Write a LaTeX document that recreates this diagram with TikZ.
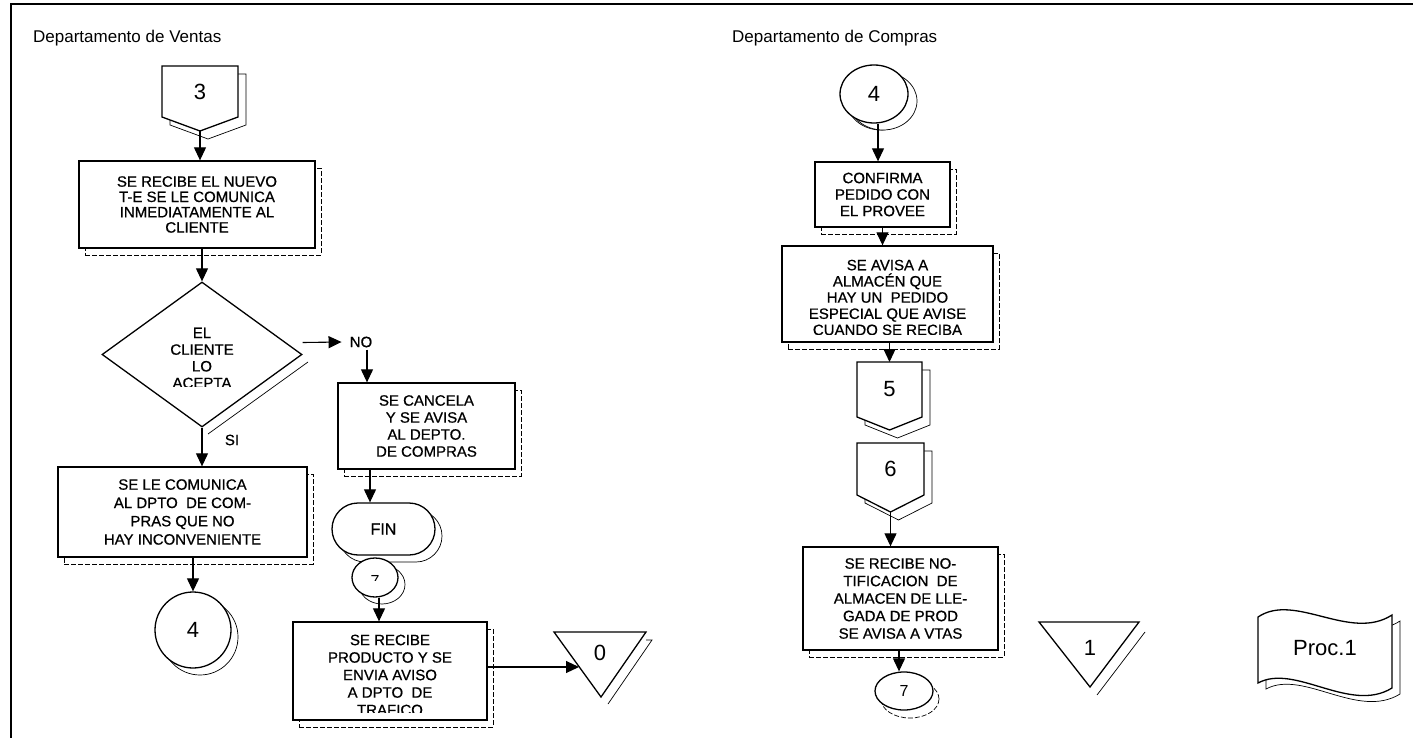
\documentclass[tikz,border=0pt]{standalone}
\usepackage{fontspec}
\setmainfont{Liberation Sans}
\newfontfamily\boxfam{Liberation Sans}[FakeBold=0.7]
\usetikzlibrary{arrows.meta,shapes.geometric,shapes.misc,shadows,calc}

% box lettering: size and line spacing
\newcommand\bx[2]{\boxfam\fontsize{#1}{#2}\selectfont}
\newcommand\numfont{\fontsize{22}{24}\selectfont}

% off-page connector: name, cx, cy, half width, half height, tip depth, label
\newcommand\offpage[7]{%
  \begin{scope}[shift={(#2,#3)}]
    \draw[shadowline, shift={(8,8)}] (-#4,-#5) -- (#4,-#5) -- (#4,#5) -- (0,#6) -- (-#4,#5) -- cycle;
    \draw[outline] (-#4,-#5) -- (#4,-#5) -- (#4,#5) -- (0,#6) -- (-#4,#5) -- cycle;
    \node[numtext] (#1) at (0,0) {#7};
    \coordinate (#1-top) at (0,-#5);
    \coordinate (#1-tip) at (0,#6);
  \end{scope}}

\begin{document}
\begin{tikzpicture}[x=1pt,y=-1pt,
  frame/.style={line width=1.3pt},
  outline/.style={draw=black, line width=1.3pt, fill=white},
  shadowline/.style={draw=black, line width=0.7pt, fill=white},
  thinline/.style={draw=black, line width=0.7pt},
  boxshadow/.style={copy shadow={shadow xshift=6pt, shadow yshift=-7pt, draw=black,
      line width=0.7pt, dash pattern=on 5pt off 2pt, fill=white}},
  solidshadow/.style={copy shadow={shadow xshift=#1, shadow yshift=-7pt, draw=black,
      line width=0.7pt, fill=white}},
  solidshadow/.default=7pt,
  box/.style={outline, rectangle, inner sep=0pt, align=center, font=\bx{15}{16.5}, boxshadow},
  txt/.style={inner sep=0pt, align=center},
  circ/.style={outline, ellipse, inner sep=0pt, font=\numfont, solidshadow},
  numtext/.style={font=\numfont, inner sep=0pt},
  head/.style={font=\fontsize{17}{19}\selectfont, inner sep=0pt, anchor=west},
  lbl/.style={font=\bx{15}{16}, inner xsep=8pt, inner ysep=2pt},
  arr/.style={line width=1.1pt, -{Triangle[length=13pt,width=12pt]}},
]
\useasboundingbox (0,0) rectangle (1413,738);

% page frame
\draw[frame] (1413,4) -- (11,4) -- (11,738);

% column headings
\node[head] (hv) at (33,38) {Departamento de Ventas};
\node[head] (hc) at (732,38) {Departamento de Compras};

% ---------------- Ventas ----------------
\offpage{p3}{200}{91.5}{38}{25.5}{39.5}{3}

\node[box, minimum width=236pt, minimum height=87pt, font=\bx{15}{15.3}]
  (b1) at (197,204.5) {SE RECIBE EL NUEVO\\T-E SE LE COMUNICA\\INMEDIATAMENTE AL\\CLIENTE};

% decision with its shadow on the lower right edge only
\draw[thinline] (308,362) -- (208,434);
\node[outline, diamond, minimum width=200pt, minimum height=145pt, inner sep=0pt]
  (dia) at (202,354.5) {};
\begin{scope}
  \clip (120,310) rectangle (290,386);
  \node[txt, font=\bx{15}{16.7}] (diat) at (202,358) {EL\\CLIENTE\\LO\\ACEPTA};
\end{scope}

\node[lbl] (no) at (361,342) {NO};
\node[lbl] (si) at (232,440) {SI};

\node[box, minimum width=177pt, minimum height=86pt, font=\bx{15}{17}]
  (cancel) at (426.5,426) {SE CANCELA\\Y SE AVISA\\AL DEPTO.\\DE COMPRAS};

\node[box, minimum width=249pt, minimum height=90pt, font=\bx{15}{18.3}]
  (com) at (182.5,512) {SE LE COMUNICA\\AL DPTO\ \ DE COM-\\PRAS QUE NO\\HAY INCONVENIENTE};

\node[circ, minimum width=76pt, minimum height=76pt] (c4) at (193,630) {4};

\node[outline, rounded rectangle, minimum width=103pt, minimum height=52pt, inner sep=0pt,
  font=\bx{16}{18}, solidshadow=7pt] (fin) at (383.5,529) {FIN};

\node[circ, minimum width=46pt, minimum height=39pt] (c7) at (375,577.5) {};
\begin{scope}
  \clip (360,565) rectangle (390,580.5);
  \node[txt, font=\fontsize{16}{18}\selectfont] (c7t) at (375,580.5) {7};
\end{scope}

\node[box, minimum width=194pt, minimum height=98pt] (prod) at (390,671) {};
\begin{scope}
  \clip (300,628) rectangle (480,712);
  \node[txt, font=\bx{15}{17.5}] (prodt) at (390,675)
    {SE RECIBE\\PRODUCTO Y SE\\ENVIA AVISO\\A DPTO\ \ DE\\TRAFICO};
\end{scope}

% off-page triangle 0
\draw[thinline] (646,640) -- (652,640) -- (608,704);
\draw[outline] (554,632) -- (646,632) -- (601,697) -- cycle;
\node[numtext] (t0) at (600,653) {0};
\coordinate (t0in) at (579,667);

% ---------------- Compras ----------------
\node[circ, minimum width=68pt, minimum height=58pt, solidshadow=9pt] (c4r) at (874,94) {4};

\node[box, minimum width=135pt, minimum height=65pt, font=\bx{15}{16.5}]
  (conf) at (882.5,194.5) {CONFIRMA\\PEDIDO CON\\EL PROVEE};

\node[box, minimum width=211pt, minimum height=96pt] (avisa) at (887.5,294) {};
\begin{scope}
  \clip (790,250) rectangle (985,334);
  \node[txt, font=\bx{15}{16.2}] (avisat) at (887.5,297.5)
    {SE AVISA A\\ALMACÉN QUE\\HAY UN\ \ PEDIDO\\ESPECIAL QUE AVISE\\CUANDO SE RECIBA};
\end{scope}

\offpage{p5}{889.5}{389.5}{32.5}{27.5}{40.5}{5}
\offpage{p6}{890.5}{469}{33.5}{26}{43}{6}

\node[box, minimum width=195pt, minimum height=103pt, font=\bx{15}{17.5}]
  (noti) at (900.5,598.5)
  {SE RECIBE NO-\\TIFICACION\ \ DE\\ALMACEN DE LLE-\\GADA DE PROD\\SE AVISA A VTAS};

\node[outline, ellipse, inner sep=0pt, minimum width=58pt, minimum height=38pt,
  font=\fontsize{16}{18}\selectfont,
  copy shadow={shadow xshift=6pt, shadow yshift=-8pt, draw=black, line width=0.7pt,
    dash pattern=on 5pt off 2pt, fill=white}] (c7r) at (904,691) {7};

% off-page triangle 1
\draw[thinline] (1145,632) -- (1097,695);
\draw[outline] (1039,622) -- (1139,622) -- (1090,687) -- cycle;
\node[numtext] (t1) at (1090,648) {1};

% document symbol
\draw[shadowline, shift={(8,6)}] (1258,617) .. controls (1295,592) and (1350,642) .. (1392,615)
  -- (1392,688) .. controls (1350,714) and (1295,663) .. (1258,683) -- cycle;
\draw[outline] (1258,617) .. controls (1295,592) and (1350,642) .. (1392,615)
  -- (1392,688) .. controls (1350,714) and (1295,663) .. (1258,683) -- cycle;
\node[numtext] (proc) at (1325,648) {Proc.1};

% ---------------- connectors ----------------
\draw[arr] (p3-tip) -- (p3-tip |- b1.north);
\draw[arr] (dia.north |- b1.south) -- (dia.north);
\draw[arr] ($(dia.east)+(0,-12)$) -- (no.west);
\draw[arr] ([xshift=6pt]no.south) -- ([xshift=6pt]no.south |- cancel.north);
\draw[arr] (dia.south) -- (dia.south |- com.north);
\draw[arr] (c4.north |- com.south) -- (c4.north);
\draw[arr] ([xshift=9pt]no.south |- cancel.south) -- ([xshift=9pt]no.south |- fin.north);
\draw[arr] ([xshift=4pt]c7.south) -- ([xshift=4pt]c7.south |- prod.north);
\draw[arr] (prod.east |- t0in) -- (t0in);

\draw[arr] ([xshift=4pt]c4r.south) -- ([xshift=4pt]c4r.south |- conf.north);
\draw[arr] (conf.south) -- (conf.south |- avisa.north);
\draw[arr] (p5-top |- avisa.south) -- (p5-top);
\draw[arr] (p6-tip) -- (p6-tip |- noti.north);
\draw[arr] ([xshift=-5pt]c7r.north |- noti.south) -- ([xshift=-5pt]c7r.north);
\end{tikzpicture}
\end{document}
